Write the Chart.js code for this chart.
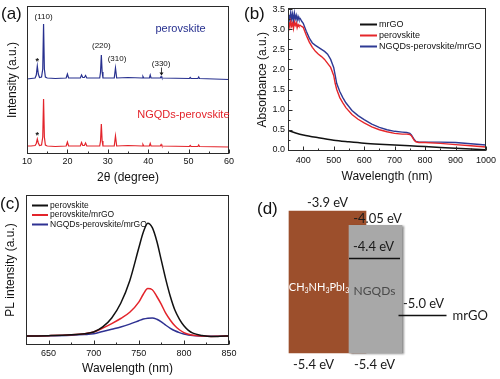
<!DOCTYPE html>
<html><head><meta charset="utf-8">
<script src="https://cdn.jsdelivr.net/npm/chart.js@4.4.1/dist/chart.umd.min.js"></script>
<style>
html,body{margin:0;padding:0;background:#fff;width:500px;height:379px;overflow:hidden;font-family:"Liberation Sans",Arial,sans-serif;}
.p{position:absolute;}
.lab{position:absolute;font-size:17px;line-height:20px;color:#111;}
</style></head><body>
<div class="p" style="left:0;top:0;width:250px;height:190px"><canvas id="ca" width="250" height="190"></canvas></div>
<div class="p" style="left:250px;top:0;width:250px;height:190px"><canvas id="cb" width="250" height="190"></canvas></div>
<div class="p" style="left:0;top:190px;width:250px;height:189px"><canvas id="cc" width="250" height="189"></canvas></div>
<div class="p" style="left:250px;top:190px;width:250px;height:189px"><canvas id="cd" width="250" height="189"></canvas></div>
<div class="lab" style="left:1px;top:4px">(a)</div>
<div class="lab" style="left:244px;top:4px">(b)</div>
<div class="lab" style="left:0px;top:194px">(c)</div>
<div class="lab" style="left:257px;top:199px">(d)</div>
<script>
// ---------- Panel (a): XRD ----------
const A_ANGLE = [10, 11, 12, 12.3, 12.55, 12.8, 13.1, 13.6, 13.9, 14.1, 14.3, 14.55, 15, 17, 19.7, 20.0, 20.3, 23.2, 23.5, 23.8, 24.2, 24.5, 24.8, 28.0, 28.2, 28.4, 28.6, 28.8, 31.6, 31.9, 32.2, 35, 38.5, 38.7, 38.9, 40.3, 40.5, 40.7, 43.0, 43.2, 43.4, 50.2, 50.4, 50.6, 52.3, 52.5, 52.7, 60];
const A_PEROV = [75, 75.5, 76, 79, 88, 80, 76.5, 77, 85, 130, 85, 77, 76, 75.5, 76, 80, 76, 76, 79, 76.5, 76.5, 78.5, 76, 76, 82, 99, 82, 76, 76, 86, 76, 76.5, 76, 77.5, 76, 76, 79, 76, 76, 77.5, 76, 75.5, 76.5, 75.5, 75.5, 77, 75.5, 74.5];
const A_NGQD = [8, 8, 8.5, 10.5, 15, 11, 8.5, 9, 17, 55, 17, 9, 8, 7.5, 8, 12, 8, 8, 11.5, 8.5, 8.5, 11, 8, 8, 13, 30, 13, 8, 8, 18, 8, 8.5, 8, 9.5, 8, 8, 10.5, 8, 8, 9.5, 8, 7.5, 8.5, 7.5, 7.5, 9, 7.5, 7];
const A_XTICKS = [10, 20, 30, 40, 50, 60];
const A_HKL = ['(110)', '(220)', '(310)', '(330)'];
const A_HKL_ANGLE = [14.1, 28.4, 31.9, 43.2];
const A_STAR_ANGLE = 12.55;

// ---------- Panel (b): absorbance ----------
const B_WL = [350,353,356,359,362,365,368,371,374,377,380,383,386,390,395,400,410,420,430,440,450,460,470,480,490,500,505,510,520,530,540,560,580,600,625,650,675,700,725,740,750,755,760,765,770,780,800,850,900,950,1000];
const B_PEROV = [3.1,3.18,3.05,3.2,3.08,3.15,3.02,3.18,3.1,3.16,3.04,3.12,3.08,3.1,3.07,
  3.05,2.85,2.68,2.55,2.45,2.38,2.32,2.25,2.15,2.05,1.85,1.65,1.5,1.3,1.17,1.05,0.88,0.76,0.67,0.57,0.5,0.45,0.41,0.39,0.39,0.38,0.35,0.29,0.23,0.2,0.18,0.18,0.16,0.13,0.1,0.07];
const B_NGQD = [3.28,3.36,3.22,3.42,3.25,3.38,3.2,3.4,3.26,3.35,3.22,3.32,3.25,3.27,3.2,
  3.15,2.95,2.78,2.66,2.6,2.55,2.5,2.45,2.38,2.25,2.05,1.85,1.65,1.45,1.3,1.17,0.98,0.85,0.75,0.64,0.56,0.5,0.46,0.44,0.43,0.41,0.37,0.31,0.25,0.21,0.19,0.19,0.19,0.18,0.15,0.12];
const B_MRGO_WL = [350,375,400,450,500,550,600,650,700,750,800,850,900,950,1000];
const B_MRGO = [0.48,0.42,0.37,0.3,0.24,0.2,0.165,0.14,0.12,0.1,0.08,0.06,0.04,0.02,0.0];
const B_XTICKS = [400,500,600,700,800,900,1000];
const B_YTICKS = [0,0.5,1,1.5,2,2.5,3,3.5];

// ---------- Panel (c): PL ----------
const C_WL = [625,650,675,690,700,710,720,730,740,750,755,760,765,770,775,780,785,790,795,800,805,810,820,830,840,850];
const C_PEROV = [0,0.003,0.01,0.02,0.035,0.08,0.16,0.29,0.49,0.78,0.92,1.0,0.96,0.84,0.67,0.5,0.35,0.23,0.15,0.09,0.05,0.025,0.005,-0.005,-0.003,0];
const C_PEROV_MRGO = [0,0.003,0.01,0.02,0.035,0.07,0.11,0.155,0.21,0.3,0.37,0.42,0.41,0.35,0.28,0.2,0.14,0.09,0.055,0.03,0.015,0.007,0,-0.004,-0.002,0];
const C_NGQD_MRGO = [0,0.002,0.007,0.013,0.02,0.04,0.06,0.08,0.105,0.135,0.15,0.158,0.16,0.148,0.125,0.095,0.068,0.046,0.03,0.018,0.009,0.004,0,-0.003,-0.002,0];
const C_XTICKS = [650,700,750,800,850];

// ---------- Panel (d): energy levels ----------
const D_MATERIAL = ['CH3NH3PbI3', 'NGQDs', 'mrGO'];
const D_TOP = [-3.9, -4.05, null];
const D_BOTTOM = [-5.4, -5.4, null];
const D_LEVEL = [null, -4.4, -5.0];

const FONT = '"Liberation Sans", Arial, sans-serif';
Chart.defaults.font.family = FONT;
Chart.defaults.color = '#111';

const BLUE = '#27308f', RED = '#e3242b', BLACK = '#111';

const pts = (xs, ys) => xs.map((x, i) => ({x, y: ys[i]}));
const setTicks = arr => s => { s.ticks = arr.map(v => ({value: v})); };

// frame + inward ticks
const framePlugin = {
  id: 'frame',
  afterDatasetsDraw(chart, args, o) {
    if (!o || !o.show) return;
    const {ctx, chartArea: a} = chart;
    const L = Math.round(a.left) + 0.5, R = Math.round(a.right) - 0.5;
    const T = Math.round(a.top) + 0.5, B = Math.round(a.bottom) - 0.5;
    ctx.save();
    ctx.strokeStyle = '#2a2a2a'; ctx.lineWidth = 1;
    ctx.strokeRect(L, T, R - L, B - T);
    ctx.beginPath();
    const xs = chart.scales.x;
    const xv = xs.ticks.map(t => t.value);
    const mk = (vals) => { const out = []; for (let i = 0; i < vals.length - 1; i++) out.push((vals[i] + vals[i + 1]) / 2); return out; };
    let xmin = [...mk(xv)];
    if (xv.length > 1) { const st = xv[1] - xv[0]; if (xv[0] - st / 2 > xs.min) xmin.unshift(xv[0] - st / 2); }
    xv.forEach(v => { const p = Math.round(xs.getPixelForValue(v)) + 0.5; ctx.moveTo(p, B); ctx.lineTo(p, B - 4); });
    xmin.forEach(v => { const p = Math.round(xs.getPixelForValue(v)) + 0.5; ctx.moveTo(p, B); ctx.lineTo(p, B - 2); });
    if (o.yTicks) {
      const ys = chart.scales.y;
      const yv = ys.ticks.map(t => t.value);
      yv.forEach(v => { const p = Math.round(ys.getPixelForValue(v)) + 0.5; ctx.moveTo(L, p); ctx.lineTo(L + 4, p); });
      mk(yv).forEach(v => { const p = Math.round(ys.getPixelForValue(v)) + 0.5; ctx.moveTo(L, p); ctx.lineTo(L + 2, p); });
    }
    ctx.stroke();
    ctx.restore();
  }
};

// simple in-plot legend
const legendPlugin = {
  id: 'inlegend',
  afterDraw(chart, args, o) {
    if (!o || !o.show) return;
    const {ctx} = chart;
    ctx.save();
    ctx.font = o.size + 'px ' + FONT;
    ctx.textBaseline = 'middle';
    o.order.forEach((di, k) => {
      const ds = chart.data.datasets[di];
      const y = o.y + k * o.dy;
      ctx.strokeStyle = ds.borderColor; ctx.lineWidth = 2;
      ctx.beginPath(); ctx.moveTo(o.x, y + 0.5); ctx.lineTo(o.x + o.len, y + 0.5); ctx.stroke();
      ctx.fillStyle = '#111';
      ctx.fillText(ds.label, o.x + o.len + 2, y + 0.5);
    });
    ctx.restore();
  }
};

// annotations for XRD
const annAPlugin = {
  id: 'annA',
  afterDatasetsDraw(chart, args, o) {
    if (!o || !o.show) return;
    const {ctx, scales: {x, y}} = chart;
    const valAt = (arr, ang) => arr[A_ANGLE.indexOf(ang)];
    ctx.save();
    ctx.fillStyle = '#111';
    ctx.font = '8px ' + FONT;
    ctx.textAlign = 'center'; ctx.textBaseline = 'middle';
    const offs = [7, 9, 9, 13];
    const dx = [0, 0, 1.5, 0];
    A_HKL.forEach((lab, i) => {
      const ang = A_HKL_ANGLE[i];
      const px = x.getPixelForValue(ang);
      const py = y.getPixelForValue(valAt(A_PEROV, ang));
      ctx.fillText(lab, px + dx[i], py - offs[i]);
      if (lab === '(330)') {
        ctx.strokeStyle = '#111'; ctx.lineWidth = 0.8;
        const ax = Math.round(px) + 0.5;
        ctx.beginPath(); ctx.moveTo(ax, py - 9); ctx.lineTo(ax, py - 2); ctx.stroke();
        ctx.beginPath(); ctx.moveTo(ax - 2, py - 4); ctx.lineTo(ax, py - 1); ctx.lineTo(ax + 2, py - 4); ctx.fill();
      }
    });
    // stars
    ctx.font = 'bold 9px ' + FONT;
    const sx = x.getPixelForValue(A_STAR_ANGLE);
    ctx.fillText('*', sx, y.getPixelForValue(valAt(A_PEROV, A_STAR_ANGLE)) - 4);
    ctx.fillText('*', sx, y.getPixelForValue(valAt(A_NGQD, A_STAR_ANGLE)) - 3);
    // sample names
    ctx.font = '11px ' + FONT;
    chart.data.datasets.forEach((ds, i) => {
      ctx.fillStyle = ds.borderColor;
      const pos = o.names[i];
      ctx.fillText(ds.label, x.getPixelForValue(pos[0]), y.getPixelForValue(pos[1]));
    });
    ctx.restore();
  }
};

// energy diagram labels and levels
const energyPlugin = {
  id: 'energy',
  beforeDatasetDraw(chart, args) {
    if (chart.canvas.id !== 'cd') return;
    const ds = chart.data.datasets[args.index];
    if (ds.shadow) {
      const c = chart.ctx; c.save();
      c.shadowColor = 'rgba(0,0,0,0.45)'; c.shadowOffsetX = 2; c.shadowOffsetY = 1; c.shadowBlur = 2;
    }
  },
  afterDatasetDraw(chart, args) {
    if (chart.canvas.id !== 'cd') return;
    const ds = chart.data.datasets[args.index];
    if (ds.shadow) chart.ctx.restore();
  },
  afterDatasetsDraw(chart, args, o) {
    if (!o || !o.show) return;
    const {ctx, scales: {x, y}} = chart;
    const fmt = v => (Math.round(v * 10) === v * 10 ? v.toFixed(1) : v.toFixed(2)) + ' eV';
    const cx = i => x.getPixelForValue(i);
    const widths = o.widths;
    ctx.save();
    ctx.font = '13px Lato, ' + FONT;
    ctx.textAlign = 'center'; ctx.textBaseline = 'middle';
    ctx.fillStyle = '#1a1a1a';
    // top / bottom labels
    ctx.fillText(fmt(D_TOP[0]), cx(0), y.getPixelForValue(D_TOP[0]) - 8);
    ctx.fillText(fmt(D_TOP[1]), cx(1) + 2, y.getPixelForValue(D_TOP[1]) - 6);
    ctx.fillText(fmt(D_BOTTOM[0]), cx(0) - 14, y.getPixelForValue(D_BOTTOM[0]) + 12);
    ctx.fillText(fmt(D_BOTTOM[1]), cx(1) - 1, y.getPixelForValue(D_BOTTOM[1]) + 12);
    // levels
    ctx.strokeStyle = '#111'; ctx.lineWidth = 1.5;
    D_LEVEL.forEach((v, i) => {
      if (v === null) return;
      const py = Math.round(y.getPixelForValue(v)) + 0.5;
      const l = cx(i) - widths[i] / 2, r = cx(i) + widths[i] / 2 - 2;
      ctx.beginPath(); ctx.moveTo(l, py); ctx.lineTo(r, py); ctx.stroke();
      ctx.fillText(fmt(v), cx(i) - (i === 1 ? 2 : 0), py - 12);
      if (D_TOP[i] === null) {
        ctx.textAlign = 'left';
        ctx.fillText(D_MATERIAL[i], r + 6, py);
        ctx.textAlign = 'center';
      }
    });
    // material names in boxes
    const midY = y.getPixelForValue(o.nameLevel);
    ctx.fillStyle = '#4a4a4a';
    ctx.font = '12px Lato, ' + FONT;
    ctx.fillText(D_MATERIAL[1], cx(1) - 1, midY + 4);
    // CH3NH3PbI3 with subscripts
    const leftB = cx(0) - widths[0] / 2, leftG = cx(1) - widths[1] / 2;
    const cxB = (leftB + leftG) / 2;
    const parts = D_MATERIAL[0].match(/[A-Za-z]+|\d+/g);
    const big = '11px Lato, ' + FONT, small = '7px Lato, ' + FONT;
    let tw = 0;
    parts.forEach(p => { ctx.font = /\d/.test(p) ? small : big; tw += ctx.measureText(p).width; });
    let px = cxB - tw / 2;
    ctx.textAlign = 'left'; ctx.fillStyle = '#ffffff';
    parts.forEach(p => {
      const sub = /\d/.test(p);
      ctx.font = sub ? small : big;
      ctx.fillText(p, px, midY + (sub ? 4 : 1));
      px += ctx.measureText(p).width;
    });
    ctx.restore();
  }
};

Chart.register(framePlugin, legendPlugin, annAPlugin, energyPlugin);

const baseOpts = () => ({
  responsive: false, animation: false, devicePixelRatio: 1,
  plugins: {legend: {display: false}, tooltip: {enabled: false}},
  elements: {point: {radius: 0}},
});
const axisTitle = (text, pad) => ({display: true, text, font: {size: 12}, color: '#111', padding: pad});

// (a)
new Chart(document.getElementById('ca'), {
  type: 'line',
  data: {datasets: [
    {label: 'perovskite', data: pts(A_ANGLE, A_PEROV), borderColor: BLUE, borderWidth: 1.2, tension: 0},
    {label: 'NGQDs-perovskite', data: pts(A_ANGLE, A_NGQD), borderColor: RED, borderWidth: 1.2, tension: 0},
  ]},
  options: Object.assign(baseOpts(), {
    layout: {autoPadding: false, padding: {left: 0, right: 21, top: 6, bottom: 0}},
    plugins: {legend: {display: false}, tooltip: {enabled: false}, frame: {show: true}, annA: {show: true, names: [[48, 125], [48.7, 39]]}},
    scales: {
      x: {type: 'linear', min: 10, max: 60, afterBuildTicks: setTicks(A_XTICKS), afterFit: s => { s.height = 36; },
          grid: {display: false, drawTicks: false}, border: {display: false}, ticks: {padding: 2, font: {size: 9}, color: '#111', callback: v => String(v)},
          title: axisTitle('2\u03b8 (degree)', {top: 0, bottom: 5})},
      y: {type: 'linear', min: 0, max: 148, ticks: {display: false}, afterFit: s => { s.width = 27; },
          grid: {display: false, drawTicks: false}, border: {display: false},
          title: axisTitle('Intensity (a.u.)', {top: 5, bottom: 0})}
    }
  })
});

// (b)
new Chart(document.getElementById('cb'), {
  type: 'line',
  data: {datasets: [
    {label: 'mrGO', data: pts(B_MRGO_WL, B_MRGO), borderColor: BLACK, borderWidth: 1.5, cubicInterpolationMode: 'monotone'},
    {label: 'perovskite', data: pts(B_WL, B_PEROV), borderColor: '#e5262a', borderWidth: 1.4, tension: 0},
    {label: 'NGQDs-perovskite/mrGO', data: pts(B_WL, B_NGQD), borderColor: '#2e3a94', borderWidth: 1.4, tension: 0},
  ]},
  options: Object.assign(baseOpts(), {
    layout: {autoPadding: false, padding: {left: 0, right: 12, top: 5, bottom: 0}},
    plugins: {legend: {display: false}, tooltip: {enabled: false}, frame: {show: true, yTicks: true},
      inlegend: {show: true, x: 110, y: 24, dy: 11, len: 17, size: 9, order: [0, 1, 2]}},
    scales: {
      x: {type: 'linear', min: 350, max: 1000, afterBuildTicks: setTicks(B_XTICKS), afterFit: s => { s.height = 39; },
          grid: {display: false, drawTicks: false}, border: {display: false}, ticks: {padding: 4, font: {size: 9}, color: '#111', callback: v => String(v)},
          title: axisTitle('Wavelength (nm)', {top: 0, bottom: 6})},
      y: {type: 'linear', min: -0.03, max: 3.52, afterBuildTicks: setTicks(B_YTICKS), afterFit: s => { s.width = 38; },
          grid: {display: false, drawTicks: false}, border: {display: false},
          ticks: {padding: 3, font: {size: 9}, color: '#111', callback: v => v.toFixed(1)},
          title: axisTitle('Absorbance (a.u.)', {top: 5, bottom: 0})}
    }
  })
});

// (c)
new Chart(document.getElementById('cc'), {
  type: 'line',
  data: {datasets: [
    {label: 'perovskite', data: pts(C_WL, C_PEROV), borderColor: BLACK, borderWidth: 1.5, cubicInterpolationMode: 'monotone'},
    {label: 'perovskite/mrGO', data: pts(C_WL, C_PEROV_MRGO), borderColor: RED, borderWidth: 1.5, cubicInterpolationMode: 'monotone'},
    {label: 'NGQDs-perovskite/mrGO', data: pts(C_WL, C_NGQD_MRGO), borderColor: '#2e3192', borderWidth: 1.5, cubicInterpolationMode: 'monotone'},
  ]},
  options: Object.assign(baseOpts(), {
    layout: {autoPadding: false, padding: {left: 0, right: 21, top: 5, bottom: 0}},
    plugins: {legend: {display: false}, tooltip: {enabled: false}, frame: {show: true},
      inlegend: {show: true, x: 32, y: 15, dy: 9.5, len: 16, size: 8.5, order: [0, 1, 2]}},
    scales: {
      x: {type: 'linear', min: 625, max: 850, afterBuildTicks: setTicks(C_XTICKS), afterFit: s => { s.height = 34; },
          grid: {display: false, drawTicks: false}, border: {display: false}, ticks: {padding: 3, font: {size: 9}, color: '#111', callback: v => String(v)},
          title: axisTitle('Wavelength (nm)', {top: 0, bottom: 3})},
      y: {type: 'linear', min: -0.08, max: 1.25, ticks: {display: false}, afterFit: s => { s.width = 26; },
          grid: {display: false, drawTicks: false}, border: {display: false},
          title: axisTitle('PL intensity (a.u.)', {top: 3, bottom: 0})}
    }
  })
});

// (d)
new Chart(document.getElementById('cd'), {
  type: 'bar',
  data: {datasets: [
    {label: D_MATERIAL[1], data: [{x: 1, y: [D_BOTTOM[1], D_TOP[1]]}], backgroundColor: '#a8a8a8', barThickness: 53, borderWidth: 0, shadow: true},
    {label: D_MATERIAL[0], data: [{x: 0, y: [D_BOTTOM[0], D_TOP[0]]}], backgroundColor: '#9c4f2c', barThickness: 77, borderWidth: 0},
  ]},
  options: Object.assign(baseOpts(), {
    layout: {autoPadding: false, padding: {left: 29.5, right: 28.5, top: 0, bottom: 0}},
    plugins: {legend: {display: false}, tooltip: {enabled: false},
      energy: {show: true, widths: [77, 53, 50], nameLevel: -4.7}},
    scales: {
      x: {type: 'linear', min: -1, max: 3, display: false, stacked: true, offset: false},
      y: {type: 'linear', min: -5.675, max: -3.678, display: false, stacked: false}
    }
  })
});
</script>
</body></html>
